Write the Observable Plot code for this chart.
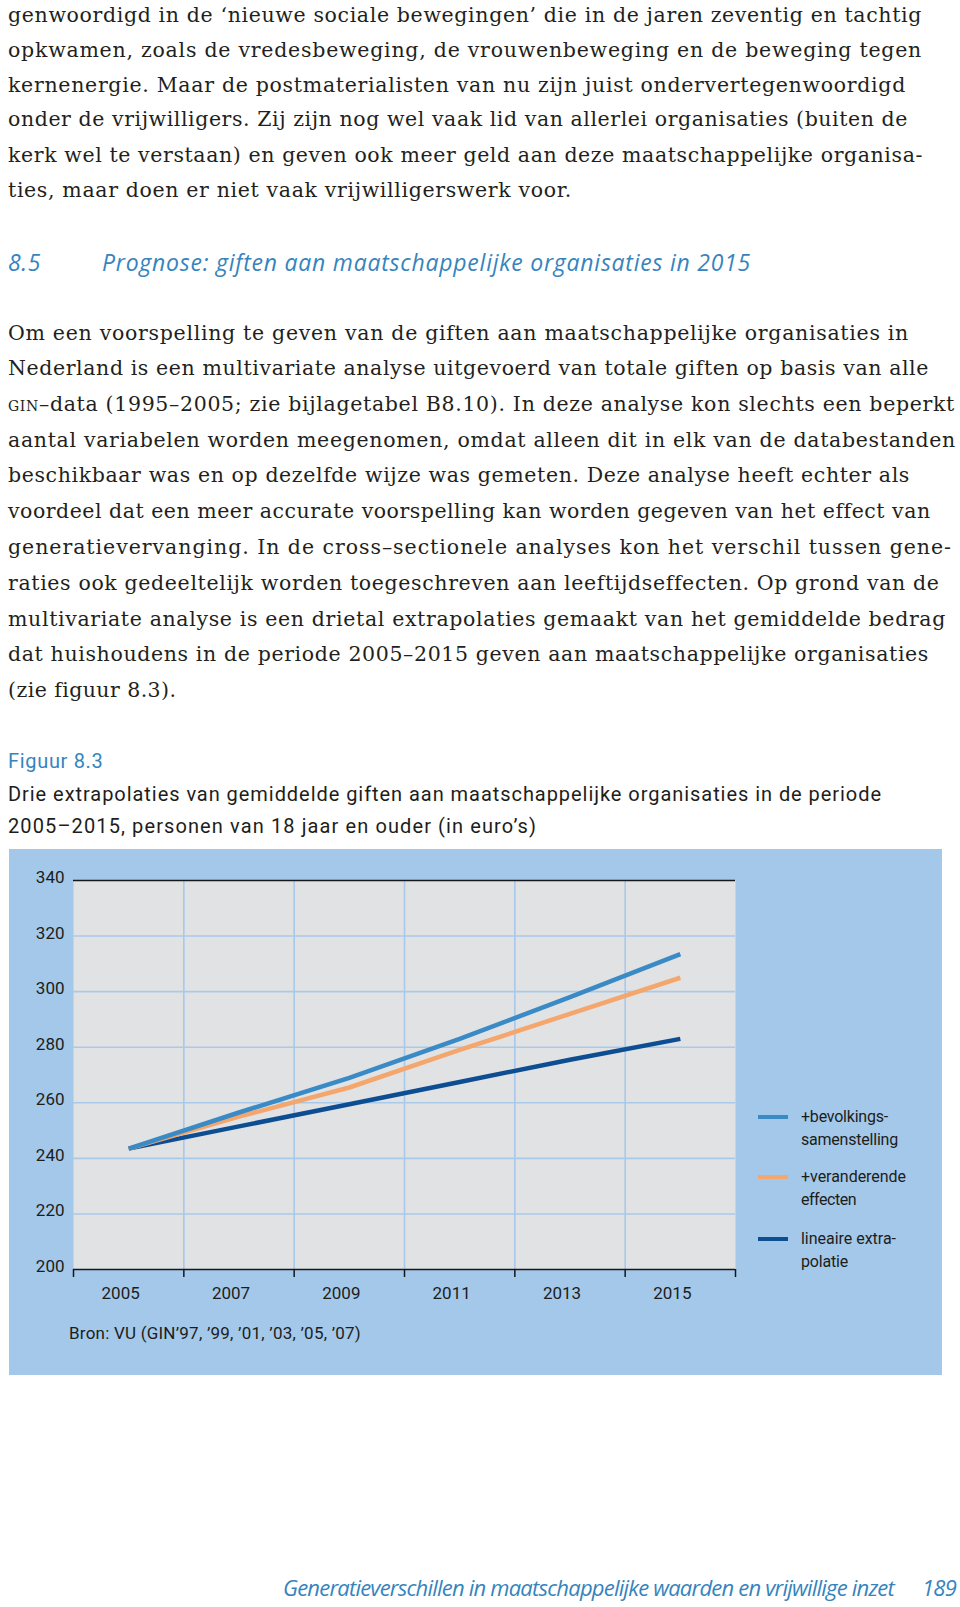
<!DOCTYPE html>
<html><head><meta charset="utf-8">
<script src="https://cdn.jsdelivr.net/npm/d3@7"></script>
<script src="https://cdn.jsdelivr.net/npm/@observablehq/plot@0.6"></script>
<style>
html,body{margin:0;padding:0;background:#fff;}
body{width:960px;height:1607px;position:relative;overflow:hidden;}
.t{position:absolute;white-space:nowrap;height:36px;line-height:36px;}
.serif{font-family:"DejaVu Serif",serif;font-size:20.5px;color:#231f20;}
.hd{font-family:"Open Sans",sans-serif;font-style:italic;color:#3584be;}
.sans{font-family:Roboto,sans-serif;color:#1d1d1b;}
.sc{font-variant:small-caps;}
#chart{position:absolute;left:9px;top:849px;}
.lg{position:absolute;height:4px;width:30px;}
</style></head><body>
<div id="chart"></div>
<script>
// ---- chart data ----
const years = [2005, 2007, 2009, 2011, 2013, 2015];
const bevolking = [243.5, 256.5, 269, 283, 298, 313.5];
const veranderend = [243.5, 255, 265.5, 279, 292, 305];
const lineair = [243.5, 251.5, 259.5, 267.5, 275.5, 283];
const seriesNames = ["+bevolkings-samenstelling", "+veranderende effecten", "lineaire extrapolatie"];
const legendLines = [["+bevolkings-", "samenstelling"], ["+veranderende", "effecten"], ["lineaire extra-", "polatie"]];
const seriesColors = ["#3a8ac6", "#f4a66c", "#0d4e93"];
const yTicks = [200, 220, 240, 260, 280, 300, 320, 340];
const gridYears = [2004, 2006, 2008, 2010, 2012, 2014, 2016];
const sourceText = "Bron: VU (GIN’97, ’99, ’01, ’03, ’05, ’07)";

const seriesValues = [bevolking, veranderend, lineair];
const table = [];
seriesValues.forEach((vals, s) => years.forEach((yr, i) => table.push({year: yr, value: vals[i], series: seriesNames[s]})));

const lineMarks = [2, 1, 0].map(s => Plot.line(table.filter(d => d.series === seriesNames[s]), {
  x: "year", y: "value", stroke: seriesColors[s], strokeWidth: 4.5, strokeLinecap: "butt", strokeLinejoin: "round"
}));

const chart = Plot.plot({
  width: 933, height: 526,
  marginLeft: 64, marginRight: 207, marginTop: 31, marginBottom: 106,
  style: {background: "#a3c8ea", fontFamily: "Roboto, sans-serif", fontSize: "17px", color: "#1d1d1b", overflow: "visible"},
  x: {domain: [2004, 2016], label: null},
  y: {domain: [200, 340], label: null},
  marks: [
    Plot.frame({fill: "#e1e2e4", stroke: null}),
    Plot.ruleY(yTicks.filter(v => v > 200 && v < 340), {stroke: "#a9c9ea", strokeWidth: 1.6}),
    Plot.ruleX(gridYears.filter(v => v > 2004 && v < 2016), {stroke: "#a9c9ea", strokeWidth: 1.6}),
    Plot.ruleY([340, 200], {stroke: "#15171a", strokeWidth: 1.5}),
    Plot.axisX({ticks: gridYears, tickSize: 8, tickFormat: () => "", stroke: "#15171a", strokeWidth: 1.5, label: null}),
    Plot.axisX({ticks: years, tickSize: 0, tickPadding: 17, dx: -8, tickFormat: d => String(d), fontSize: 17, label: null}),
    Plot.axisY({ticks: yTicks, tickSize: 0, tickPadding: 9, dy: -3, fontSize: 17, label: null}),
    ...lineMarks
  ]
});
document.getElementById("chart").appendChild(chart);

// ---- page text ----
const page = document.body;
function addText(html, cls, x, yc, right, extra) {
  const d = document.createElement("div");
  d.className = "t " + cls;
  d.innerHTML = html;
  d.style.left = x + "px";
  d.style.top = (yc - 18) + "px";
  if (extra) Object.assign(d.style, extra);
  page.appendChild(d);
  if (right != null) {
    const w = d.getBoundingClientRect().width;
    const n = d.textContent.length;
    const ls = (right - x - w) / n;
    d.style.letterSpacing = ls + "px";
  }
  return d;
}

const para1 = [
  ["genwoordigd in de ‘nieuwe sociale bewegingen’ die in de jaren zeventig en tachtig", 922],
  ["opkwamen, zoals de vredesbeweging, de vrouwenbeweging en de beweging tegen", 922],
  ["kernenergie. Maar de postmaterialisten van nu zijn juist ondervertegenwoordigd", 906],
  ["onder de vrijwilligers. Zij zijn nog wel vaak lid van allerlei organisaties (buiten de", 908],
  ["kerk wel te verstaan) en geven ook meer geld aan deze maatschappelijke organisa-", 923],
  ["ties, maar doen er niet vaak vrijwilligerswerk voor.", 572]
];
const para1Y = [14.5, 49.5, 84.5, 119, 154.5, 190];
para1.forEach((l, i) => addText(l[0], "serif", 8, para1Y[i], l[1]));

addText("8.5", "hd", 8, 262, 41, {fontSize: "23px"});
addText("Prognose: giften aan maatschappelijke organisaties in 2015", "hd", 102, 262, 751, {fontSize: "23px"});

const para2 = [
  ["Om een voorspelling te geven van de giften aan maatschappelijke organisaties in", 909],
  ["Nederland is een multivariate analyse uitgevoerd van totale giften op basis van alle", 929],
  ["<span class='sc'>gin</span>–data (1995–2005; zie bijlagetabel B8.10). In deze analyse kon slechts een beperkt", 955],
  ["aantal variabelen worden meegenomen, omdat alleen dit in elk van de databestanden", 956],
  ["beschikbaar was en op dezelfde wijze was gemeten. Deze analyse heeft echter als", 910],
  ["voordeel dat een meer accurate voorspelling kan worden gegeven van het effect van", 930],
  ["generatievervanging. In de cross–sectionele analyses kon het verschil tussen gene-", 952],
  ["raties ook gedeeltelijk worden toegeschreven aan leeftijdseffecten. Op grond van de", 939],
  ["multivariate analyse is een drietal extrapolaties gemaakt van het gemiddelde bedrag", 946],
  ["dat huishoudens in de periode 2005–2015 geven aan maatschappelijke organisaties", 929],
  ["(zie figuur 8.3).", 176]
];
const para2Y = [333, 368, 403.5, 439.5, 475, 511, 547, 583, 619, 654, 689.5];
para2.forEach((l, i) => addText(l[0], "serif", 8, para2Y[i], l[1]));

addText("Figuur 8.3", "sans", 8, 761, 103.5, {fontSize: "20px", color: "#3584be"});
addText("Drie extrapolaties van gemiddelde giften aan maatschappelijke organisaties in de periode", "sans", 8, 794, 882, {fontSize: "20px"});
addText("2005–2015, personen van 18 jaar en ouder (in euro’s)", "sans", 8, 826, 537, {fontSize: "20px"});

// legend
const legendY = [1116.5, 1177, 1239];
const legendRight = [[888, 898], [906, 856], [896, 848]];
legendLines.forEach((lines, s) => {
  const sw = document.createElement("div");
  sw.className = "lg";
  sw.style.left = "758px";
  sw.style.top = (legendY[s] - 2) + "px";
  sw.style.background = seriesColors[s];
  page.appendChild(sw);
  lines.forEach((txt, j) => addText(txt, "sans", 801, legendY[s] + j * 23, legendRight[s][j], {fontSize: "16px"}));
});
addText(sourceText, "sans", 69, 1333, 361, {fontSize: "17px"});

addText("Generatieverschillen in maatschappelijke waarden en vrijwillige inzet", "hd", 283, 1587, 894, {fontSize: "22px"});
addText("189", "hd", 922, 1587, 956, {fontSize: "22px"});
</script>
</body></html>
